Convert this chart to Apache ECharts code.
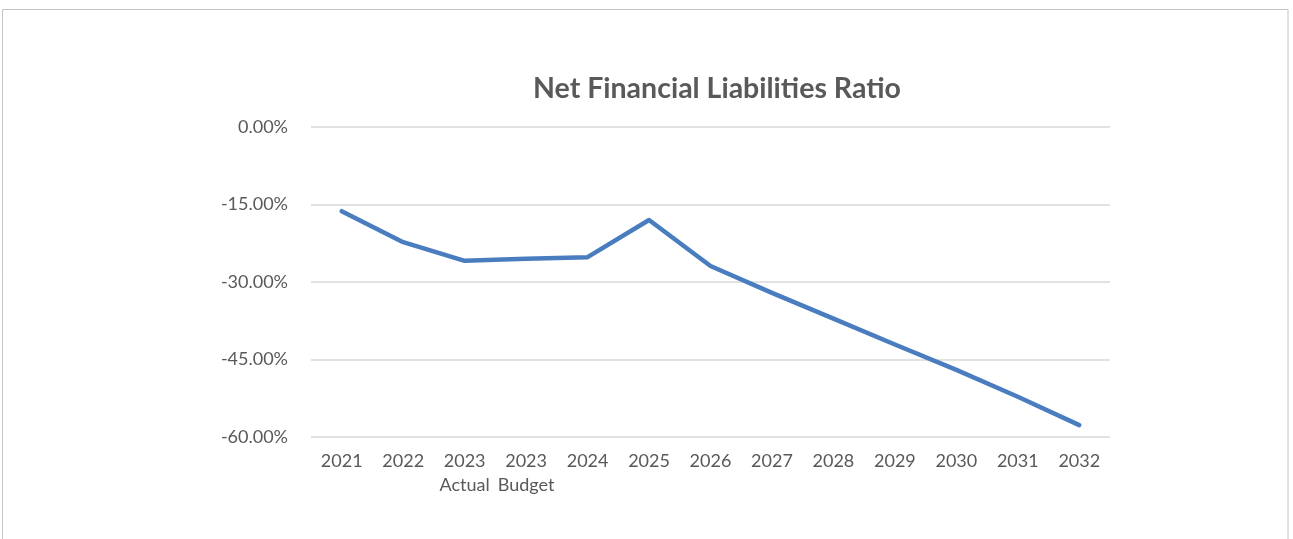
<!DOCTYPE html>
<html>
<head>
<meta charset="utf-8">
<script src="https://cdn.jsdelivr.net/npm/echarts@6/dist/echarts.min.js"></script>
<style>
html,body{margin:0;padding:0;background:#fff;}
#chart{width:1293px;height:539px;}
</style>
</head>
<body>
<div id="chart"></div>
<script>
const titleText = 'Net Financial Liabilities Ratio';
const categories = ['2021','2022','2023\nActual','2023\nBudget','2024','2025','2026','2027','2028','2029','2030','2031','2032'];
const ratioValues = [-16.3, -22.3, -25.9, -25.5, -25.2, -18.0, -26.9, -32.1, -37.1, -42.1, -47.0, -52.2, -57.7];
const yMin = -60, yMax = 0, yStep = 15;

const chart = echarts.init(document.getElementById('chart'), null, {renderer:'canvas'});
const font = 'Lato, "Open Sans", sans-serif';
chart.setOption({
  animation: false,
  backgroundColor: '#ffffff',
  title: {
    text: titleText,
    left: 712, top: 69, textAlign: 'center',
    textStyle: {fontFamily: font, fontSize: 28.5, fontWeight: 'bold', color: '#595959'}
  },
  graphic: [{
    type: 'rect', silent: true,
    shape: {x: 2.5, y: 9.5, width: 1285.5, height: 560},
    style: {fill: 'none', stroke: '#c4c4c4', lineWidth: 1}
  }],
  grid: {left: 311, right: 183, top: 127, bottom: 102, containLabel: false},
  xAxis: {
    type: 'category',
    data: categories,
    boundaryGap: true,
    axisLine: {show: false},
    axisTick: {show: false},
    axisLabel: {fontFamily: font, fontSize: 18, color: '#595959', margin: 12, lineHeight: 24, interval: 0}
  },
  yAxis: {
    type: 'value',
    min: yMin, max: yMax, interval: yStep,
    axisLine: {show: false},
    axisTick: {show: false},
    splitLine: {lineStyle: {color: '#d9d9d9', width: 1.5}},
    axisLabel: {fontFamily: font, fontSize: 18, color: '#595959', margin: 23,
      formatter: v => v.toFixed(2) + '%'}
  },
  series: [{
    type: 'line',
    data: ratioValues,
    symbol: 'none',
    lineStyle: {color: '#4a7dc0', width: 4.5, cap: 'round', join: 'round'},
    itemStyle: {color: '#4a7dc0'}
  }]
});
</script>
</body>
</html>
